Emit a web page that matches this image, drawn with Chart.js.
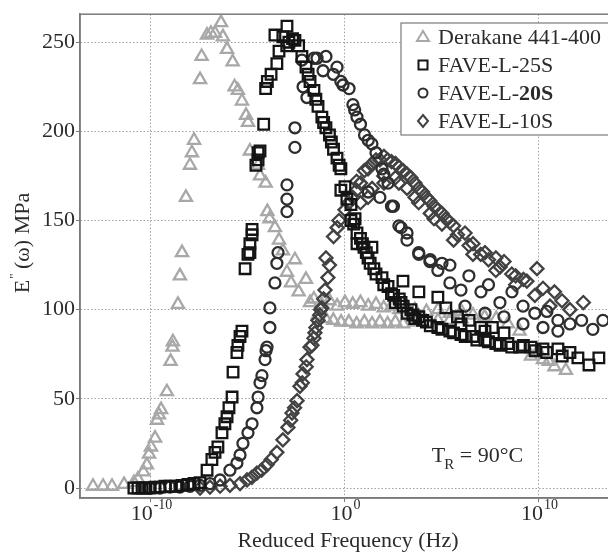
<!DOCTYPE html>
<html>
<head>
<meta charset="utf-8">
<script src="https://cdn.jsdelivr.net/npm/chart.js@4.4.0/dist/chart.umd.min.js"></script>
<style>
  html, body { margin: 0; padding: 0; background: #fff; overflow: hidden; }
  #wrap { width: 630px; height: 552px; }
</style>
</head>
<body>
<div id="wrap"><canvas id="chart" width="630" height="552"></canvas></div>
<script>
// values: x as log10(frequency / Hz), y as E'' in MPa
const derakaneLogF = [-12.99,-12.47,-12.01,-11.39,-10.88,-10.67,-10.39,-10.21,-10.10,-10.00,-9.79,-9.69,-9.59,-9.48,-9.18,
  -8.99,-8.89,-8.87,-8.61,-8.51,-8.40,-8.20,-7.99,-7.89,-7.78,-7.47,-7.39,-7.11,-6.91,-6.70,-6.39,-6.29,-6.08,-5.79,-5.69,
  -5.52,-5.31,-5.10,-5.00,-4.90,-4.48,-4.38,-4.09,-4.00,-3.89,-3.61,-3.40,-3.20,-2.99,-2.78,-2.58,-2.39,-2.01,-1.80,
  -1.6,-1.2,-0.8,-0.4,0,0.4,0.8,1.2,1.6,2.0,2.4,2.8,3.2,3.6,4.2,4.8,5.4,6.0,6.6,7.2,7.8,8.4,9.0,
  -1.4,-1.0,-0.6,-0.2,0.2,0.6,1.0,1.4,1.8,2.2,2.6,3.0,3.6,4.2,4.8,5.4,6.0,
  9.59,9.9,10.21,10.5,10.80,11.39];
const derakaneE = [1,1,1,2,3,5,9,13,19,23,28,38,41,44,54,
  71,79,82,103,119,132,163,181,188,195,229,242,254,255,255,261,253,246,239,225,
  223,217,209,205,189,181,175,171,155,151,146,139,133,121,115,128,110,117,104,
  106,103,105,102,104,103,104,102,103,101,102,100,101,100,99,100,98,99,97,96,95,92,88,
  97,95,94,93,93,92,93,92,93,92,93,92,93,93,94,94,95,
  74,76,72,71,68,66];

const fave25LogF = [-10.88,-10.67,-10.46,-10.26,-10.05,-9.79,-9.54,-9.28,-9.02,-8.71,-8.40,-8.09,-7.78,-7.47,
  -7.11,-6.86,-6.70,-6.55,-6.34,-6.19,-6.08,-5.98,-5.82,-5.77,-5.57,-5.52,-5.41,-5.31,
  -5.15,-5.0,-4.90,-4.90,-4.79,-4.79,-4.59,-4.48,-4.48,-4.38,-4.19,-4.09,-4.0,-3.81,-3.51,
  -3.61,-3.20,-2.99,-2.89,-2.58,-2.39,-2.22,-2.01,-1.80,-1.60,-1.39,-1.19,-0.98,-0.80,-0.59,
  -0.41,-0.21,-0.21,0,0.31,0.31,0.52,0.62,0.62,0.90,0.98,1.19,1.39,1.49,
  1.91,2.22,2.51,2.89,2.99,3.40,3.81,3.81,4.20,4.79,4.79,5.41,5.98,5.98,6.60,7.22,7.22,7.78,8.40,9.0,
  9.59,10.21,10.98,11.60,12.01,12.58,13.09,
  1.6,2.0,2.6,3.2,3.6,4.4,5.0,5.6,6.2,6.8,7.4,8.0,8.6,9.2,9.8,10.4,11.2,
  5.2,5.8,6.4,7.0,7.6,8.2,
  -3.4,-3.0,-2.7,-1.9,-1.5,-1.1,-0.7,-0.3,0.1,0.45,0.8,1.1,1.3,2.4,2.8,3.0,3.5,4.0];
const fave25E = [0,0,0,0,0,0.5,0.5,1,1,1,1.5,2,2.5,3,
  10,16,20,23,31,36,40,45,51,65,76,80,85,88,
  123,131,132,137,142,145,181,184,188,189,204,224,228,232,238,
  254,253,259,250,251,248,242,236,228,223,214,208,202,198,190,
  185,179,167,169,159,150,151,143,137,137,135,129,135,123,
  118,113,108,104,116,100,96,110,93,90,107,88,86,92,85,83,88,81,81,79,
  79,78,78,76,73,69,73,
  120,114,104,98,95,91,89,87,85,83,82,80,79,80,77,76,74,
  101,96,94,90,90,87,
  245,248,252,232,218,205,194,181,162,148,140,132,126,109,106,102,97,94];

const fave20LogF = [-10.05,-9.54,-9.02,-8.51,-7.99,-7.47,-6.96,-6.44,-5.93,-5.57,
  -5.41,-5.26,-5.0,-4.79,-4.54,-4.48,-4.38,-4.28,-4.12,-4.07,-4.02,-3.87,-3.87,-3.61,-3.51,
  -3.45,-2.99,-2.99,-2.99,-2.58,-2.58,-2.16,-1.96,-2.22,-1.60,-1.44,-1.13,-0.98,-0.41,-0.21,
  0.21,0.41,0.62,1.01,1.39,1.60,1.91,2.22,2.78,3.20,3.81,4.38,4.79,5.41,5.41,
  5.98,6.39,7.01,7.40,7.99,8.61,9.18,9.79,10.41,10.98,11.60,12.20,12.78,13.30,
  6.19,7.22,8.20,9.18,10.21,10.98,
  2.9,3.2,3.8,4.4,5.0,
  1.2,1.8,2.4,
  -0.6,-0.1,0.5,0.8,1.2,2.0,2.5];
const fave20E = [0,0,0.5,0.5,1,1.5,2.5,4.5,10,14,
  18.5,25,31,36,45,51,59,63,72,77,79,90,101,115,126,
  132,155,162,170,191,202,225,219,240,241,241,234,242,236,228,
  224,215,208,198,193,188,179,171,147,139,131,127,122,125,115,
  111,119,110,114,104,110,102,98,99,94,92,94,89,94,
  102,98,96,92,90,88,
  146,143,132,128,126,
  166,163,158,
  232,226,212,204,195,176,158];

const fave10LogF = [-7.47,-6.96,-6.44,-5.93,-5.41,
  -5.05,-4.54,-4.02,-3.51,-3.20,-2.94,-2.73,-2.47,-2.32,-2.16,-1.96,-1.80,-1.55,-1.39,-1.19,
  -1.03,-0.88,-0.98,-0.59,-0.31,0,0.41,0.80,1.19,1.60,2.01,2.40,2.78,3.20,3.61,
  4.0,4.38,4.79,5.21,5.60,6.19,6.60,7.22,7.78,8.20,8.80,9.38,9.90,10.21,10.80,11.19,11.60,12.29,
  1.19,2.01,2.78,3.61,4.59,5.60,6.60,7.78,8.80,9.79,10.57,
  -1.6,-1.3,-0.8,-0.4,0.2,0.6,
  -4.8,-4.3,-3.8,
  0.6,1.0,1.4,1.8,2.2,2.6,3.0,3.4,3.8,4.2,4.6,5.0,5.4,
  0.8,1.4,2.0,2.6,3.2,3.8,4.4,5.0,5.8,6.4,7.0,7.4,8.0,8.6,9.2,
  -2.8,-2.6,-2.2,-2.0,-1.7,-1.5,-1.25,-1.1];
const fave10E = [0,0.5,1,1.5,2.5,
  4.5,8.4,13,20,27,34,42,49,57,64,72,79,87,94,101,
  111,118,129,141,150,156,163,171,179,184,186,183,180,176,171,
  166,161,156,151,147,143,137,132,129,127,119,116,123,112,110,105,100,104,
  163,171,171,163,151,139,131,122,114,108,102,
  84,97,125,146,160,167,
  6,10,16,
  172,178,182,184,184,182,178,174,168,163,158,154,149,
  160,168,175,174,168,160,154,148,142,136,131,128,124,120,117,
  38,45,59,68,80,90,100,106];

const xTicks = [1e-10, 1, 1e10];
const xTickExp = ['-10', '0', '10'];
const yTicks = [0, 50, 100, 150, 200, 250];
const seriesNames = ['Derakane 441-400', 'FAVE-L-25S', 'FAVE-L-20S', 'FAVE-L-10S'];

const SERIF = '"Liberation Serif", "Times New Roman", serif';
const TXT = '#2b2b2b';

const toPoints = (logF, vals) => logF.map((e, i) => ({ x: Math.pow(10, e), y: vals[i] }));

const styles = [
  { pointStyle: 'triangle', color: '#a8a8a8', radius: 7 },
  { pointStyle: 'rect', color: '#141414', radius: 7.5 },
  { pointStyle: 'circle', color: '#2e2e2e', radius: 5.5 },
  { pointStyle: 'rectRot', color: '#424242', radius: 6.5 }
];

const frame = {
  id: 'frame',
  afterDraw(chart) {
    const { ctx, chartArea: a, scales } = chart;
    const x = scales.x, y = scales.y;
    ctx.save();
    ctx.strokeStyle = '#7a7a7a';
    ctx.lineWidth = 1.5;
    ctx.strokeRect(a.left, a.top, a.right - a.left, a.bottom - a.top);

    // x tick labels 10^n
    ctx.fillStyle = TXT;
    ctx.textAlign = 'left';
    ctx.textBaseline = 'alphabetic';
    xTicks.forEach((v, i) => {
      const px = x.getPixelForValue(v);
      ctx.font = '22px ' + SERIF;
      const w1 = ctx.measureText('10').width;
      ctx.font = '14px ' + SERIF;
      const w2 = ctx.measureText(xTickExp[i]).width;
      const left = px - (w1 + w2) / 2;
      ctx.font = '22px ' + SERIF;
      ctx.fillText('10', left, 520);
      ctx.font = '14px ' + SERIF;
      ctx.fillText(xTickExp[i], left + w1 + 1, 509);
    });

    // x title
    ctx.font = '22px ' + SERIF;
    ctx.textAlign = 'center';
    ctx.fillText('Reduced Frequency (Hz)', 348, 547);

    // y title, rotated
    ctx.save();
    ctx.translate(29, 243);
    ctx.rotate(-Math.PI / 2);
    ctx.font = '22px ' + SERIF;
    const wE = ctx.measureText('E').width;
    const wR = ctx.measureText(' (\u03c9) MPa').width;
    ctx.font = '13px ' + SERIF;
    const wQ = ctx.measureText('"').width;
    let sx = -(wE + wQ + wR) / 2;
    ctx.textAlign = 'left';
    ctx.font = '22px ' + SERIF;
    ctx.fillText('E', sx, 0);
    ctx.font = '13px ' + SERIF;
    ctx.fillText('"', sx + wE + 1, -11);
    ctx.font = '22px ' + SERIF;
    ctx.fillText(' (\u03c9) MPa', sx + wE + wQ, 0);
    ctx.restore();

    // T_R annotation
    const tx = x.getPixelForValue(Math.pow(10, 4.48));
    const ty = y.getPixelForValue(14.5);
    ctx.textAlign = 'left';
    ctx.font = '22px ' + SERIF;
    ctx.fillText('T', tx, ty);
    const wT = ctx.measureText('T').width;
    ctx.font = '15px ' + SERIF;
    ctx.fillText('R', tx + wT - 1, ty + 7);
    const wRs = ctx.measureText('R').width;
    ctx.font = '22px ' + SERIF;
    ctx.fillText(' = 90\u00b0C', tx + wT + wRs - 1, ty);

    // legend box
    const lx = 401, ly = 23, lw = 230, lh = 112;
    ctx.fillStyle = '#fff';
    ctx.fillRect(lx, ly, lw, lh);
    ctx.strokeStyle = '#7a7a7a';
    ctx.lineWidth = 1.2;
    ctx.strokeRect(lx, ly, lw, lh);
    ctx.textBaseline = 'middle';
    seriesNames.forEach((name, i) => {
      const rowY = 37 + i * 28;
      const st = styles[i];
      ctx.strokeStyle = st.color;
      ctx.lineWidth = 2;
      ctx.beginPath();
      const mx = 423;
      if (st.pointStyle === 'triangle') {
        ctx.moveTo(mx, rowY - 6); ctx.lineTo(mx + 6, rowY + 4); ctx.lineTo(mx - 6, rowY + 4); ctx.closePath();
      } else if (st.pointStyle === 'rect') {
        ctx.rect(mx - 4.5, rowY - 4.5, 9, 9);
      } else if (st.pointStyle === 'circle') {
        ctx.arc(mx, rowY, 4.5, 0, Math.PI * 2);
      } else {
        ctx.moveTo(mx, rowY - 6); ctx.lineTo(mx + 5, rowY); ctx.lineTo(mx, rowY + 6); ctx.lineTo(mx - 5, rowY); ctx.closePath();
      }
      ctx.stroke();
      ctx.fillStyle = TXT;
      ctx.textAlign = 'left';
      if (name === 'FAVE-L-20S') {
        ctx.font = '22px ' + SERIF;
        ctx.fillText('FAVE-L-', 438, rowY + 1);
        const wp = ctx.measureText('FAVE-L-').width;
        ctx.font = 'bold 22px ' + SERIF;
        ctx.fillText('20S', 438 + wp, rowY + 1);
      } else {
        ctx.font = '22px ' + SERIF;
        ctx.fillText(name, 438, rowY + 1);
      }
    });
    ctx.restore();
  }
};

const seriesData = [
  toPoints(derakaneLogF, derakaneE),
  toPoints(fave25LogF, fave25E),
  toPoints(fave20LogF, fave20E),
  toPoints(fave10LogF, fave10E)
];
// draw order: Derakane at the back, 25S on top
const drawOrder = [4, 1, 2, 3];

const ctx = document.getElementById('chart');
new Chart(ctx, {
  type: 'scatter',
  data: {
    datasets: seriesData.map((pts, i) => ({
      label: seriesNames[i],
      data: pts,
      order: drawOrder[i],
      pointStyle: styles[i].pointStyle,
      pointRadius: styles[i].radius,
      pointBorderWidth: 2.3,
      borderColor: styles[i].color,
      backgroundColor: 'rgba(0,0,0,0)',
      showLine: false
    }))
  },
  options: {
    responsive: false,
    animation: false,
    events: [],
    layout: { padding: { top: 14, right: 10, left: 0, bottom: 0 } },
    plugins: {
      legend: { display: false },
      tooltip: { enabled: false }
    },
    scales: {
      x: {
        type: 'logarithmic',
        min: Math.pow(10, -13.66),
        max: Math.pow(10, 14.18),
        afterBuildTicks: (scale) => { scale.ticks = xTicks.map(v => ({ value: v })); },
        afterFit: (scale) => { scale.height = 54; },
        ticks: { display: false },
        grid: { color: '#a0a0a0', lineWidth: 1, tickLength: 4, tickColor: '#7a7a7a' },
        border: { color: '#7a7a7a', width: 1.5, dash: [1.5, 2] }
      },
      y: {
        type: 'linear',
        min: -5.6,
        max: 265.7,
        afterBuildTicks: (scale) => { scale.ticks = yTicks.map(v => ({ value: v })); },
        afterFit: (scale) => { scale.width = 80; },
        ticks: {
          padding: 1,
          color: TXT,
          font: { family: SERIF, size: 22 }
        },
        grid: { color: '#a0a0a0', lineWidth: 1, tickLength: 4, tickColor: '#7a7a7a' },
        border: { color: '#7a7a7a', width: 1.5, dash: [1.5, 2] }
      }
    }
  },
  plugins: [frame]
});
</script>
</body>
</html>
